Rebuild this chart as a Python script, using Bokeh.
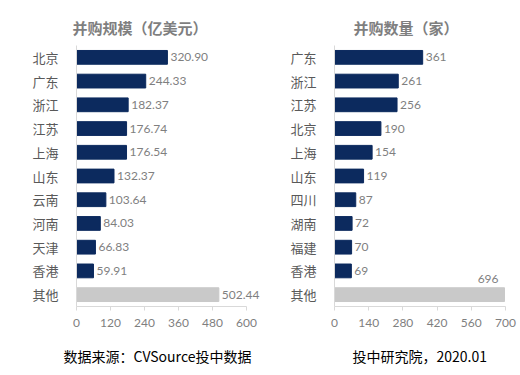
from bokeh.plotting import figure
from bokeh.models import Range1d, FixedTicker, Title, FactorRange, ColumnDataSource
from bokeh.layouts import row
from bokeh.embed import file_html
from bokeh.resources import INLINE
from bokeh.core.properties import value

# ---- data ----
left_cats = ["北京", "广东", "浙江", "江苏", "上海", "山东", "云南", "河南", "天津", "香港", "其他"]
left_vals = [320.90, 244.33, 182.37, 176.74, 176.54, 132.37, 103.64, 84.03, 66.83, 59.91, 502.44]
left_ticks = [0, 120, 240, 360, 480, 600]

right_cats = ["广东", "浙江", "江苏", "北京", "上海", "山东", "四川", "湖南", "福建", "香港", "其他"]
right_vals = [361, 261, 256, 190, 154, 119, 87, 72, 70, 69, 696]
right_ticks = [0, 140, 280, 420, 560, 700]

left_title = "并购规模（亿美元）"
right_title = "并购数量（家）"
left_note = "数据来源：CVSource投中数据"
right_note = "投中研究院，2020.01"

NAVY = "#0c2a5e"
OTHER = "#c9c9c9"
CJK = "Noto Sans CJK SC"
NUM = "Lato"


def make(cats, vals, ticks, xend, title, note, width, bl, br, toff, noff, fmt, above_last):
    colors = [NAVY] * (len(vals) - 1) + [OTHER]
    labels = [fmt(v) for v in vals]
    src = ColumnDataSource(dict(cat=cats, val=vals, color=colors, label=labels))
    p = figure(width=width, height=375, y_range=FactorRange(*reversed(cats)),
               x_range=Range1d(0, xend), output_backend="svg", toolbar_location=None,
               min_border_left=bl, min_border_right=br, min_border_top=45, min_border_bottom=10)
    p.hbar(y="cat", right="val", height=0.58, color="color", source=src)
    n = len(vals) - 1 if above_last else len(vals)
    main = ColumnDataSource(dict(cat=cats[:n], val=vals[:n], label=labels[:n]))
    p.text(x="val", y="cat", text="label", source=main, x_offset=3,
           text_baseline="middle", text_align="left", text_font_size="12px",
           text_color="#7f7f7f", text_font=value(NUM))
    if above_last:
        last = ColumnDataSource(dict(cat=cats[-1:], val=vals[-1:], label=labels[-1:]))
        p.text(x="val", y="cat", text="label", source=last, x_offset=-6, y_offset=-16,
               text_baseline="middle", text_align="right", text_font_size="12px",
               text_color="#7f7f7f", text_font=value(NUM))
    p.xaxis.ticker = FixedTicker(ticks=ticks)
    p.xaxis.bounds = (ticks[0], ticks[-1])
    p.xaxis.major_label_text_font = NUM
    p.xaxis.major_label_text_font_size = "12px"
    p.xaxis.major_label_text_color = "#7f7f7f"
    p.xaxis.axis_line_color = "#d9d9d9"
    p.xaxis.major_tick_line_color = "#d9d9d9"
    p.xaxis.major_tick_out = 4
    p.xaxis.major_tick_in = 0
    p.xaxis.minor_tick_line_color = None
    p.xaxis.major_label_standoff = 8
    p.xaxis.axis_label = " "
    p.xaxis.axis_label_text_font_size = "1px"
    p.xaxis.axis_label_standoff = 0
    p.yaxis.major_label_text_font = CJK
    p.yaxis.major_label_text_font_size = "13px"
    p.yaxis.major_label_text_color = "#595959"
    p.yaxis.axis_line_color = "#d9d9d9"
    p.yaxis.major_tick_line_color = None
    p.yaxis.minor_tick_line_color = None
    p.yaxis.major_label_standoff = 12
    p.xgrid.grid_line_color = None
    p.ygrid.grid_line_color = None
    p.outline_line_color = None
    p.y_range.range_padding = 0
    t = Title(text=title, align="left", offset=toff, text_font=CJK, text_font_size="15px",
              text_font_style="bold", text_color="#7f7f7f", standoff=16)
    p.add_layout(t, "above")
    f = Title(text=note, align="left", offset=noff, text_font=CJK, text_font_size="14px",
              text_font_style="normal", text_color="#000000", standoff=20)
    p.add_layout(f, "below")
    return p


p1 = make(left_cats, left_vals, left_ticks, 660, left_title, left_note, 270, 76, 7, -4, -13,
          lambda v: f"{v:.2f}", False)
p2 = make(right_cats, right_vals, right_ticks, 700, right_title, right_note, 250, 64, 15, 19, 18,
          lambda v: f"{v:d}", True)

layout = row(p1, p2)
open("out.html", "w").write(file_html(layout, INLINE))
